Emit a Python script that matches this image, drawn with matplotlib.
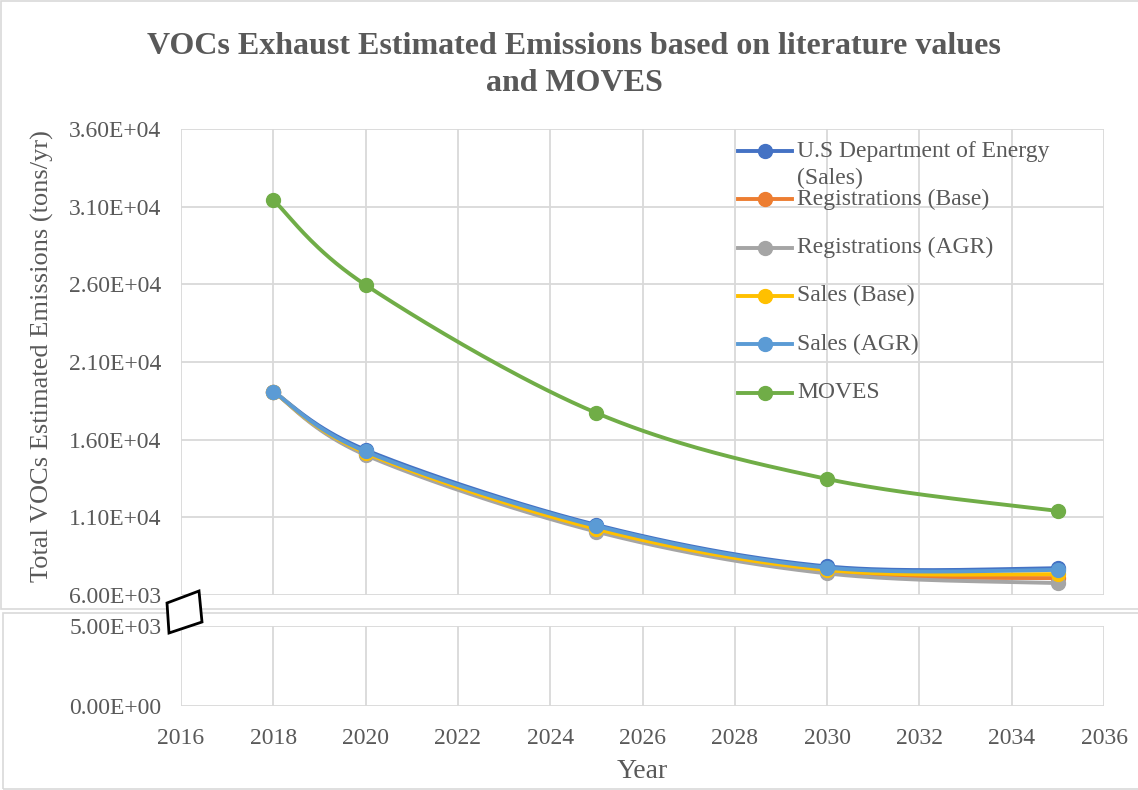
import numpy as np
import matplotlib.pyplot as plt
from matplotlib.patches import Polygon, Rectangle
from matplotlib.ticker import FuncFormatter

plt.rcParams['font.family'] = ['Liberation Serif', 'DejaVu Serif']

# Emission estimates (tons/yr)
years = [2018, 2020, 2025, 2030, 2035]
doe_sales = [19100, 15340, 10510, 7840, 7720]
reg_base = [19100, 15080, 10180, 7480, 7080]
reg_agr = [19100, 15010, 10080, 7390, 6770]
sales_base = [19100, 15150, 10250, 7610, 7340]
sales_agr = [19100, 15240, 10440, 7760, 7610]
moves = [31430, 25960, 17720, 13470, 11410]

names = ['U.S Department of Energy\n(Sales)', 'Registrations (Base)',
         'Registrations (AGR)', 'Sales (Base)', 'Sales (AGR)', 'MOVES']
series = [doe_sales, reg_base, reg_agr, sales_base, sales_agr, moves]
colors = ['#4472C4', '#ED7D31', '#A5A5A5', '#FFC000', '#5B9BD5', '#70AD47']

xticks = list(range(2016, 2037, 2))
top_yticks = list(range(6000, 36001, 5000))
bottom_yticks = [0, 5000]

txt = '#595959'
grid = '#D9D9D9'
W, H = 1138, 790

fig = plt.figure(figsize=(W / 100, H / 100), dpi=100)


def px(x0, y0, x1, y1):
    # pixel box (top-left origin) -> figure fraction rect
    return [x0 / W, 1 - y1 / H, (x1 - x0) / W, (y1 - y0) / H]


ax_top = fig.add_axes(px(181, 129, 1104, 595))
ax_bot = fig.add_axes(px(181, 626, 1104, 706))


def smooth(ax, xs, ys, n=40):
    # Bezier smoothing done in screen space, like a spreadsheet "smoothed line"
    xlim, ylim = ax.get_xlim(), ax.get_ylim()
    bb = ax.get_position()
    aw, ah = bb.width * W, bb.height * H
    p = np.column_stack([(np.asarray(xs) - xlim[0]) / (xlim[1] - xlim[0]) * aw,
                         (np.asarray(ys, float) - ylim[0]) / (ylim[1] - ylim[0]) * ah])
    m = len(p)
    out = [p[0]]
    t = np.linspace(0, 1, n)[1:, None]
    for i in range(m - 1):
        p0, p1, p2, p3 = p[max(i - 1, 0)], p[i], p[i + 1], p[min(i + 2, m - 1)]
        c1 = p1 + (p2 - p0) / 6
        c2 = p2 - (p3 - p1) / 6
        seg = ((1 - t) ** 3) * p1 + 3 * ((1 - t) ** 2) * t * c1 + 3 * (1 - t) * t ** 2 * c2 + t ** 3 * p2
        out.extend(seg)
    out = np.array(out)
    sx = out[:, 0] / aw * (xlim[1] - xlim[0]) + xlim[0]
    sy = out[:, 1] / ah * (ylim[1] - ylim[0]) + ylim[0]
    return sx, sy


for ax, lo, hi, yt in [(ax_top, 6000, 36000, top_yticks), (ax_bot, 0, 5000, bottom_yticks)]:
    ax.set_xlim(2016, 2036)
    ax.set_ylim(lo, hi)
    ax.set_xticks(xticks)
    ax.set_yticks(yt)
    ax.yaxis.set_major_formatter(FuncFormatter(lambda v, _: f'{v:.2E}'))
    ax.grid(True, color=grid, lw=1.3)
    ax.set_axisbelow(True)
    for s in ax.spines.values():
        s.set_visible(False)
    ax.tick_params(length=0, labelsize=17, labelcolor=txt, pad=14)
    for vals, c in zip(series, colors):
        sx, sy = smooth(ax, years, vals)
        ax.plot(sx, sy, color=c, lw=2.8, solid_capstyle='round')
        ax.plot(years, vals, ls='none', marker='o', ms=10, color=c, mec=c)

ax_top.tick_params(labelbottom=False)
ax_bot.tick_params(axis='x', pad=16)

# legend drawn inside the upper plot
lx0, lx1, ltx = (738 - 181) / 923, (792 - 181) / 923, (797 - 181) / 923
ly0, lstep = (595 - 151) / 466, 48.3 / 466
for i, (name, c) in enumerate(zip(names, colors)):
    y = ly0 - i * lstep
    ax_top.plot([lx0, lx1], [y, y], color=c, lw=2.8, transform=ax_top.transAxes, clip_on=False)
    ax_top.plot([(lx0 + lx1) / 2], [y], marker='o', ms=10, color=c, transform=ax_top.transAxes, clip_on=False)
    for j, line in enumerate(name.split('\n')):
        ax_top.text(ltx, y - j * 27 / 466, line, transform=ax_top.transAxes, fontsize=17,
                    color=txt, va='center', ha='left')

fig.text(574 / W, 1 - 65 / H, 'VOCs Exhaust Estimated Emissions based on literature values\nand MOVES',
         ha='center', va='center', fontsize=23, fontweight='bold', color=txt, linespacing=1.33)
fig.text(42 / W, 1 - 356 / H, 'Total VOCs Estimated Emissions (tons/yr)', rotation=90,
         ha='center', va='center', fontsize=19, color=txt)
fig.text(642 / W, 1 - 771 / H, 'Year', ha='center', va='center', fontsize=20, color=txt)

# chart frames
fig.patches.append(Rectangle((1 / W, 1 - 609 / H), 1, 608 / H, transform=fig.transFigure,
                             fill=False, ec=grid, lw=1.2))
fig.patches.append(Rectangle((3 / W, 1 - 789 / H), 1, 176 / H, transform=fig.transFigure,
                             fill=False, ec=grid, lw=1.2))

# axis break marker
brk = np.array([(167, 603), (199, 591), (202, 622), (169, 633)], float)
brk[:, 0] /= W
brk[:, 1] = 1 - brk[:, 1] / H
fig.patches.append(Polygon(brk, closed=True, transform=fig.transFigure, fc='white', ec='black',
                           lw=2, zorder=10))

fig.savefig('out.png', dpi=100)
